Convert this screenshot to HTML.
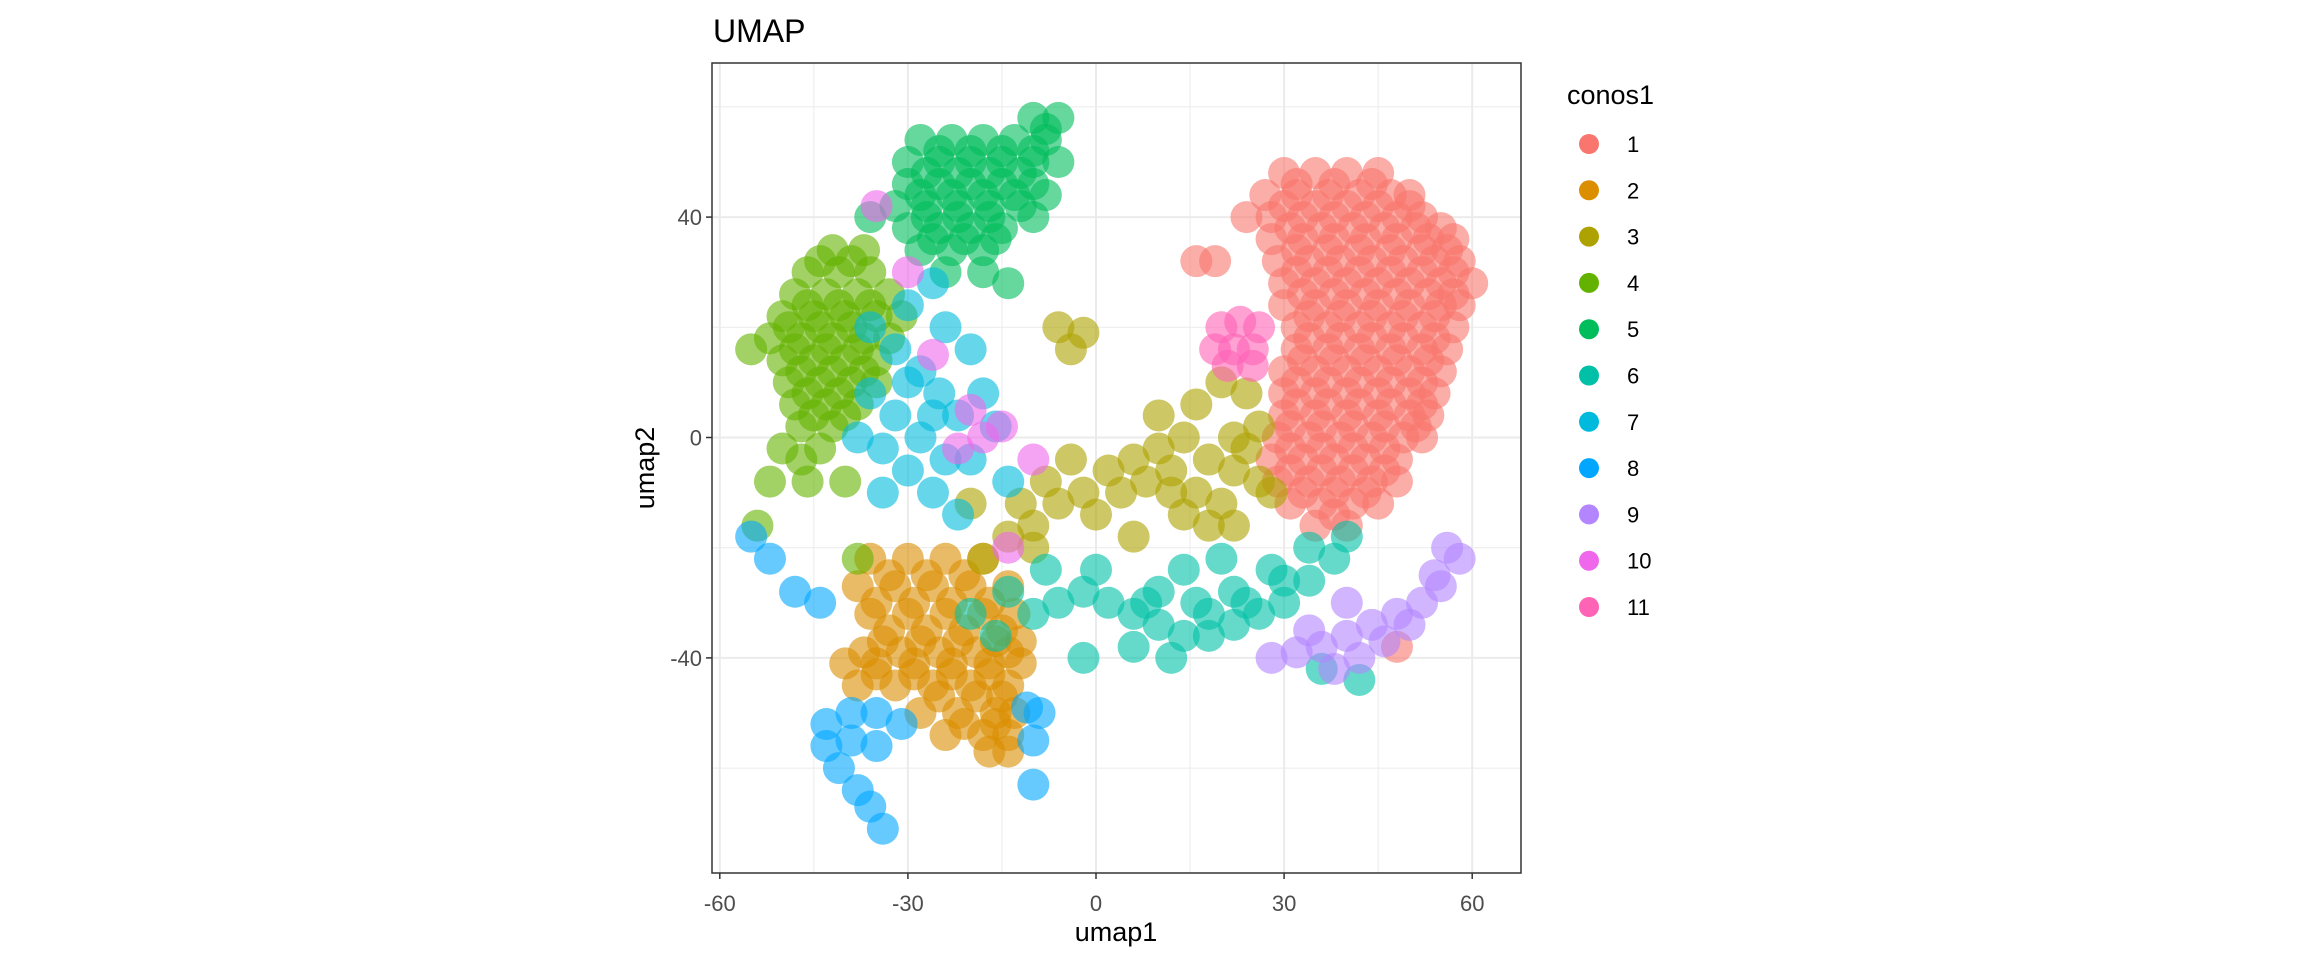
<!DOCTYPE html>
<html><head><meta charset="utf-8"><style>
html,body{margin:0;padding:0;background:#fff;}
svg{display:block;font-family:"Liberation Sans",Arial,sans-serif;}
</style></head><body>
<svg id="chart" width="2304" height="960" viewBox="0 0 2304 960" xmlns="http://www.w3.org/2000/svg">
<text x="713" y="42" font-size="32" fill="#000">UMAP</text>
<rect x="712" y="63" width="809" height="810" fill="#fff"/>
<g id="grid"></g>
<g id="points"></g>
<rect x="712" y="63" width="809" height="810" fill="none" stroke="#333" stroke-width="1.5"/>
<g id="axes"></g>
<text x="1116" y="941" font-size="27" text-anchor="middle" fill="#000">umap1</text>
<text x="0" y="0" font-size="27" text-anchor="middle" fill="#000" transform="translate(654,468) rotate(-90)">umap2</text>
<text x="1567" y="104" font-size="27" fill="#000">conos1</text>
<g id="legend"></g>
</svg>
<script>
const xTicks = [-60, -30, 0, 30, 60];
const yTicks = [-40, 0, 40];
const xMinor = [-45, -15, 15, 45];
const yMinor = [-60, -20, 20, 60];
const clusterNames = ["1","2","3","4","5","6","7","8","9","10","11"];
const clusterColors = ["#F8766D","#DB8E00","#AEA200","#64B200","#00BD5C","#00C1A7","#00BADE","#00A6FF","#B385FF","#EF67EB","#FF63B6"];
const c1 = [[30,48],[35,48],[40,48],[45,48],[27,44],[32,44],[37,44],[42,44],[47,44],[50,44],[24,40],[28,40],[33,40],[38,40],[43,40],[48,40],[52,40],[28,36],[33,36],[38,36],[43,36],[48,36],[53,36],[57,36],[29,32],[34,32],[39,32],[44,32],[49,32],[54,32],[58,32],[30,28],[35,28],[40,28],[45,28],[50,28],[55,28],[60,28],[30,24],[35,24],[40,24],[45,24],[50,24],[55,24],[58,24],[32,20],[37,20],[42,20],[47,20],[52,20],[57,20],[32,16],[37,16],[42,16],[47,16],[52,16],[56,16],[30,12],[35,12],[40,12],[45,12],[50,12],[55,12],[30,8],[35,8],[40,8],[45,8],[50,8],[54,8],[30,4],[35,4],[40,4],[45,4],[50,4],[53,4],[29,0],[34,0],[39,0],[44,0],[49,0],[52,0],[28,-4],[33,-4],[38,-4],[43,-4],[48,-4],[29,-8],[34,-8],[39,-8],[44,-8],[48,-8],[31,-12],[36,-12],[41,-12],[45,-12],[35,-16],[40,-16],[16,32],[19,32],[48,-38],
[32,46],[38,46],[44,46],[30,42],[35,42],[40,42],[45,42],[50,42],[31,38],[36,38],[41,38],[46,38],[51,38],[55,38],[32,34],[37,34],[42,34],[47,34],[52,34],[56,34],[32,30],[37,30],[42,30],[47,30],[52,30],[57,30],[33,26],[38,26],[43,26],[48,26],[53,26],[57,26],[34,22],[39,22],[44,22],[49,22],[54,22],[34,18],[39,18],[44,18],[49,18],[54,18],[33,14],[38,14],[43,14],[48,14],[53,14],[32,10],[37,10],[42,10],[47,10],[52,10],[32,6],[37,6],[42,6],[47,6],[52,6],[31,2],[36,2],[41,2],[46,2],[51,2],[31,-2],[36,-2],[41,-2],[46,-2],[31,-6],[36,-6],[41,-6],[46,-6],[33,-10],[38,-10],[43,-10],[38,-14]];
const c2 = [[-36,-22],[-30,-22],[-24,-22],[-18,-22],[-38,-27],[-32,-27],[-26,-27],[-20,-27],[-14,-27],[-36,-32],[-30,-32],[-24,-32],[-18,-32],[-13,-32],[-34,-37],[-28,-37],[-22,-37],[-16,-37],[-12,-37],[-40,-41],[-35,-41],[-29,-41],[-23,-41],[-17,-41],[-12,-41],[-38,-45],[-32,-45],[-26,-45],[-20,-45],[-14,-45],[-28,-50],[-22,-50],[-16,-50],[-13,-50],[-24,-54],[-18,-54],[-14,-54],[-17,-57],[-14,-57],
[-33,-25],[-27,-25],[-21,-25],[-35,-30],[-29,-30],[-23,-30],[-17,-30],[-33,-35],[-27,-35],[-21,-35],[-15,-35],[-37,-39],[-31,-39],[-25,-39],[-19,-39],[-14,-39],[-35,-43],[-29,-43],[-23,-43],[-17,-43],[-25,-47],[-19,-47],[-15,-47],[-21,-52],[-16,-52]];
const c3 = [[-18,-22],[-14,-18],[-10,-16],[-6,-12],[-2,-10],[-12,-12],[-8,-8],[2,-6],[6,-4],[10,-2],[14,0],[4,-10],[8,-8],[12,-6],[16,-10],[18,-4],[22,0],[26,2],[22,-6],[26,-8],[14,-14],[18,-16],[22,-16],[10,4],[16,6],[20,10],[24,8],[-4,16],[-2,19],[-6,20],[-20,-12],[-4,-4],[28,-10],[6,-18],[0,-14],[-10,-20],[20,-12],[12,-10],[24,-2]];
const c4 = [[-42,34],[-37,34],[-46,30],[-41,30],[-36,30],[-48,26],[-43,26],[-38,26],[-33,26],[-50,22],[-45,22],[-40,22],[-35,22],[-31,22],[-52,18],[-47,18],[-42,18],[-37,18],[-33,18],[-50,14],[-45,14],[-40,14],[-35,14],[-49,10],[-44,10],[-39,10],[-35,10],[-48,6],[-43,6],[-38,6],[-47,2],[-42,2],[-50,-2],[-44,-2],[-52,-8],[-46,-8],[-40,-8],[-55,16],[-54,-16],[-38,-22],
[-44,32],[-39,32],[-46,24],[-41,24],[-36,24],[-49,20],[-44,20],[-39,20],[-48,16],[-43,16],[-38,16],[-47,12],[-42,12],[-37,12],[-46,8],[-41,8],[-45,4],[-40,4],[-47,-4]];
const c5 = [[-10,58],[-6,58],[-28,54],[-23,54],[-18,54],[-13,54],[-8,54],[-30,50],[-25,50],[-20,50],[-15,50],[-10,50],[-6,50],[-30,46],[-25,46],[-20,46],[-15,46],[-10,46],[-32,42],[-27,42],[-22,42],[-17,42],[-12,42],[-30,38],[-25,38],[-20,38],[-15,38],[-28,34],[-23,34],[-18,34],[-24,30],[-18,30],[-10,40],[-8,44],[-14,28],[-36,40],
[-8,56],[-25,52],[-20,52],[-15,52],[-10,52],[-27,48],[-22,48],[-17,48],[-12,48],[-28,44],[-23,44],[-18,44],[-13,44],[-27,40],[-22,40],[-17,40],[-26,36],[-21,36],[-16,36]];
const c6 = [[-14,-28],[-10,-32],[-6,-30],[-2,-28],[2,-30],[6,-32],[10,-34],[14,-36],[18,-36],[22,-34],[26,-32],[30,-30],[34,-26],[10,-28],[16,-30],[22,-28],[28,-24],[34,-20],[38,-22],[-8,-24],[0,-24],[14,-24],[20,-22],[6,-38],[12,-40],[-2,-40],[36,-42],[42,-44],[-20,-32],[-16,-36],[40,-18],[8,-30],[18,-32],[24,-30],[30,-26]];
const c7 = [[-36,20],[-32,16],[-28,12],[-25,8],[-22,4],[-36,8],[-32,4],[-28,0],[-34,-2],[-30,-6],[-26,-10],[-22,-14],[-38,0],[-24,20],[-20,16],[-18,8],[-16,2],[-30,24],[-26,28],[-20,-4],[-14,-8],[-34,-10],[-30,10],[-26,4],[-24,-4]];
const c8 = [[-55,-18],[-52,-22],[-48,-28],[-44,-30],[-43,-52],[-39,-50],[-35,-50],[-31,-52],[-43,-56],[-39,-55],[-35,-56],[-41,-60],[-38,-64],[-36,-67],[-34,-71],[-10,-55],[-10,-63],[-11,-49],[-9,-50]];
const c9 = [[28,-40],[32,-39],[36,-38],[40,-36],[44,-34],[48,-32],[52,-30],[55,-27],[58,-22],[38,-42],[42,-40],[46,-37],[50,-34],[54,-25],[34,-35],[56,-20],[40,-30]];
const c10 = [[-18,0],[-22,-2],[-15,2],[-20,5],[-30,30],[-10,-4],[-26,15],[-14,-20],[-35,42]];
const c11 = [[20,20],[23,21],[26,20],[19,16],[22,16],[25,16],[21,13],[25,13]];
const clusterPoints = [c1,c2,c3,c4,c5,c6,c7,c8,c9,c10,c11];

const NS = "http://www.w3.org/2000/svg";
const X0 = 1096, XS = 6.27, Y0 = 437.5, YS = 5.51;
const PL = 712, PR = 1521, PT = 63, PB = 873;
function sx(v){ return X0 + v * XS; }
function sy(v){ return Y0 - v * YS; }
function mk(tag, attrs, parent){ const e = document.createElementNS(NS, tag); for (const k in attrs) e.setAttribute(k, attrs[k]); parent.appendChild(e); return e; }

const grid = document.getElementById('grid');
xMinor.forEach(v => { const l = mk('line', {x1:sx(v), x2:sx(v), y1:PT, y2:PB, stroke:'#EBEBEB', 'stroke-width':1}, grid);
  
   });
yMinor.forEach(v => { const l = mk('line', {x1:PL, x2:PR, y1:sy(v), y2:sy(v), stroke:'#EBEBEB', 'stroke-width':1}, grid);
  
   });
xTicks.forEach(v => { const l = mk('line', {x1:sx(v), x2:sx(v), y1:PT, y2:PB, stroke:'#EBEBEB', 'stroke-width':2}, grid);
  
   });
yTicks.forEach(v => { const l = mk('line', {x1:PL, x2:PR, y1:sy(v), y2:sy(v), stroke:'#EBEBEB', 'stroke-width':2}, grid);
  
   });

const pts = document.getElementById('points');
clusterPoints.forEach((arr, ci) => {
  arr.forEach(p => {
    const c = mk('circle', {cx:sx(p[0]), cy:sy(p[1]), r:16, fill:clusterColors[ci], 'fill-opacity':0.6}, pts);
    
    
  });
});

const axes = document.getElementById('axes');
xTicks.forEach(v => {
  const t = mk('line', {x1:sx(v), x2:sx(v), y1:PB, y2:PB+6, stroke:'#333', 'stroke-width':1.5}, axes);
  
  
  const tx = mk('text', {x:sx(v), y:PB+38, 'font-size':22, fill:'#4D4D4D', 'text-anchor':'middle'}, axes);
  tx.textContent = String(v);
  
  
});
yTicks.forEach(v => {
  const t = mk('line', {x1:PL-6, x2:PL, y1:sy(v), y2:sy(v), stroke:'#333', 'stroke-width':1.5}, axes);
  
  
  const tx = mk('text', {x:PL-10, y:sy(v)+8, 'font-size':22, fill:'#4D4D4D', 'text-anchor':'end'}, axes);
  tx.textContent = String(v);
  
  
});

const leg = document.getElementById('legend');
clusterNames.forEach((n, i) => {
  const cy = 144 + i * 46.3;
  const c = mk('circle', {cx:1589, cy:cy, r:10, fill:clusterColors[i]}, leg);
  
  
  const t = mk('text', {x:1627, y:cy+8, 'font-size':22, fill:'#000'}, leg);
  t.textContent = n;
  
  
});
</script>
</body></html>
